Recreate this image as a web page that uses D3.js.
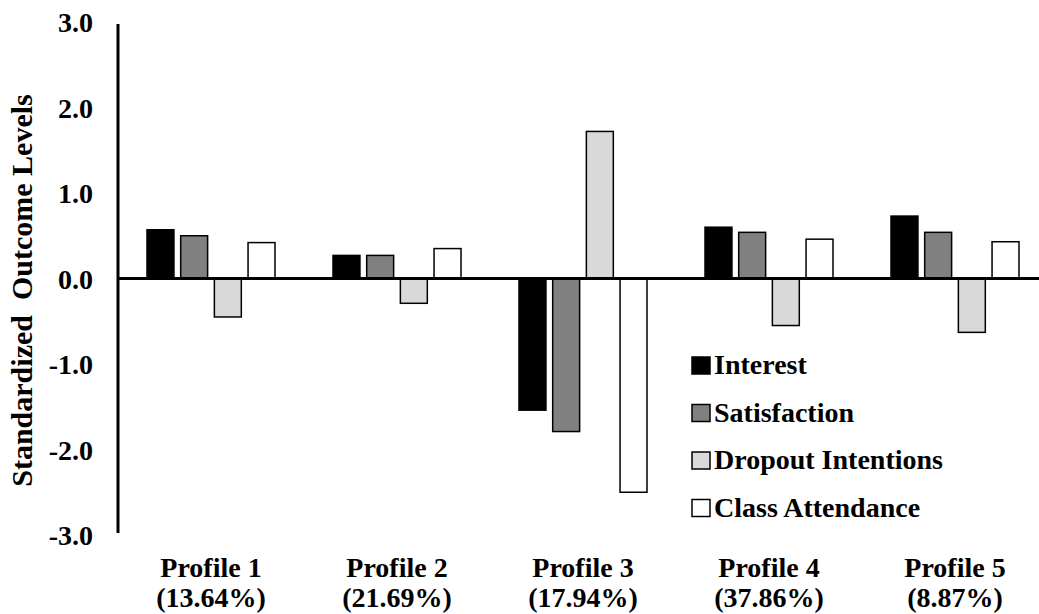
<!DOCTYPE html>
<html>
<head>
<meta charset="utf-8">
<script src="https://cdn.jsdelivr.net/npm/d3@7"></script>
<style>
  body { margin: 0; background: #fff; }
  text { font-family: "Liberation Serif", "Times New Roman", serif; font-weight: bold; fill: #000; }
</style>
</head>
<body>
<div id="chart"></div>
<script>
// data
const profiles = ["Profile 1", "Profile 2", "Profile 3", "Profile 4", "Profile 5"];
const shares = ["(13.64%)", "(21.69%)", "(17.94%)", "(37.86%)", "(8.87%)"];
const seriesNames = ["Interest", "Satisfaction", "Dropout Intentions", "Class Attendance"];
const interest = [0.57, 0.27, -1.54, 0.60, 0.73];
const satisfaction = [0.50, 0.27, -1.79, 0.54, 0.54];
const dropout = [-0.45, -0.29, 1.72, -0.55, -0.63];
const attendance = [0.42, 0.35, -2.50, 0.46, 0.43];
const yTicks = [3, 2, 1, 0, -1, -2, -3];
const colors = ["#000000", "#808080", "#d9d9d9", "#ffffff"];

const seriesValues = [interest, satisfaction, dropout, attendance];

const width = 1039, height = 614;
const svg = d3.select("#chart").append("svg")
  .attr("width", width).attr("height", height);

const x = d3.scaleBand().domain(profiles).range([118, 1048]);
const xs = d3.scaleBand().domain(seriesNames).range([29, 157]).paddingInner(0.2);
const y = d3.scaleLinear().domain([-3, 3]).range([535, 22]);

// bars
profiles.forEach((p, i) => {
  const g = svg.append("g").attr("transform", `translate(${x(p)},0)`);
  seriesNames.forEach((s, j) => {
    const v = seriesValues[j][i];
    g.append("rect")
      .attr("x", xs(s))
      .attr("y", y(Math.max(0, v)))
      .attr("width", xs.bandwidth())
      .attr("height", Math.abs(y(v) - y(0)))
      .attr("fill", colors[j])
      .attr("stroke", "#000")
      .attr("stroke-width", 1.5);
  });
});

// zero line
svg.append("line")
  .attr("x1", 118).attr("x2", width)
  .attr("y1", y(0)).attr("y2", y(0))
  .attr("stroke", "#000").attr("stroke-width", 3);

// y axis (hyphen minus like the original)
const fmt = d => (d < 0 ? "-" : "") + Math.abs(d).toFixed(1);
const yAxis = d3.axisLeft(y).tickValues(yTicks).tickSize(0).tickPadding(25).tickFormat(fmt);
const ya = svg.append("g").attr("transform", "translate(118,0)").call(yAxis);
ya.select(".domain").attr("stroke", "#000").attr("stroke-width", 3)
  .attr("d", `M0,${y(3) + 2}V${y(-3) - 2}`);
ya.selectAll("text").style("font-size", "28px").attr("dy", "0.35em")
  .style("font-family", "'Liberation Serif', serif").style("font-weight", "bold");

svg.append("text")
  .attr("transform", `translate(32,${(y(3) + y(-3)) / 2 + 12}) rotate(-90)`)
  .attr("text-anchor", "middle")
  .style("font-size", "30px")
  .style("white-space", "pre")
  .text("Standardized  Outcome Levels");

// category labels
profiles.forEach((p, i) => {
  const cx = x(p) + x.bandwidth() / 2;
  svg.append("text").attr("x", cx).attr("y", 577)
    .attr("text-anchor", "middle").style("font-size", "28px").text(p);
  svg.append("text").attr("x", cx).attr("y", 607)
    .attr("text-anchor", "middle").style("font-size", "28px").text(shares[i]);
});

// legend
const legend = svg.append("g").attr("transform", "translate(692,374)");
seriesNames.forEach((s, j) => {
  const row = legend.append("g").attr("transform", `translate(0,${j * 47.5})`);
  row.append("rect").attr("x", 0).attr("y", -17).attr("width", 18).attr("height", 17)
    .attr("fill", colors[j]).attr("stroke", "#000").attr("stroke-width", 1.5);
  row.append("text").attr("x", 22).attr("y", 0).style("font-size", "28px").text(s);
});
</script>
</body>
</html>
